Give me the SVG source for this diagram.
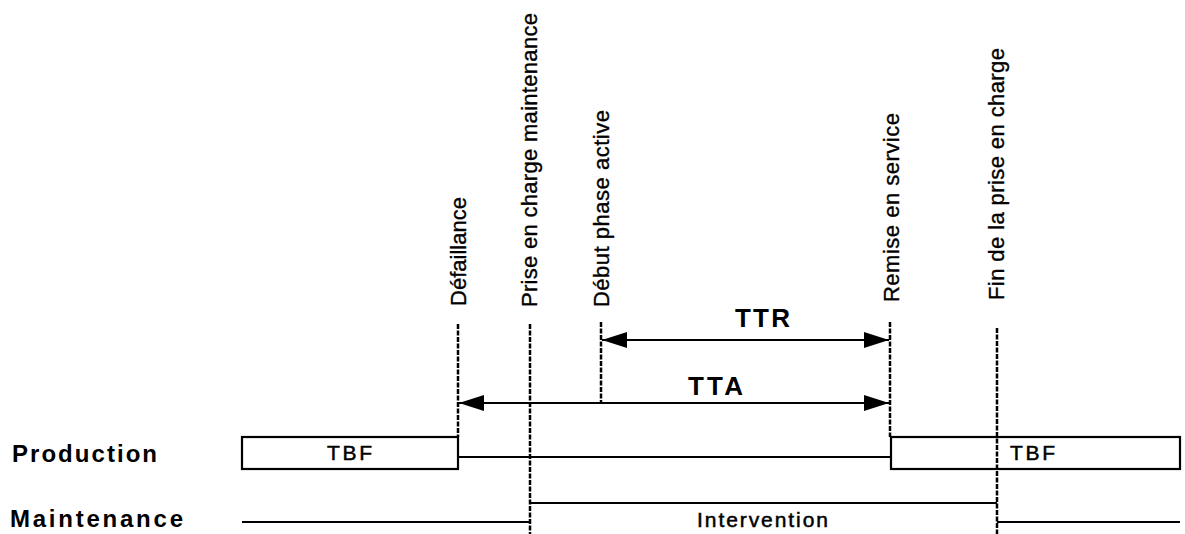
<svg xmlns="http://www.w3.org/2000/svg" width="1185" height="534" viewBox="0 0 1185 534">
<defs>
<style>
.lbl{font-family:"Liberation Sans",Arial,sans-serif;font-size:22px;fill:#000;stroke:#000;stroke-width:0.35}
.row{font-family:"Liberation Sans",Arial,sans-serif;font-size:24px;font-weight:bold;fill:#000}
.dur{font-family:"Liberation Sans",Arial,sans-serif;font-size:26px;font-weight:bold;fill:#000}
.box{font-family:"Liberation Sans",Arial,sans-serif;font-size:21px;fill:#000;stroke:#000;stroke-width:0.5}
.ev{stroke:#000;stroke-width:2.5;stroke-dasharray:5 1.5;fill:none}
.ln{stroke:#000;stroke-width:2.2;fill:none}
</style>
<marker id="ah" viewBox="0 0 25 16" refX="25" refY="8" markerWidth="25" markerHeight="16" markerUnits="userSpaceOnUse" orient="auto-start-reverse">
<path d="M0,0 L25,8 L0,16 Z" fill="#000"/>
</marker>
</defs>
<rect width="1185" height="534" fill="#fff"/>

<g id="row-production">
<text class="row" x="12" y="462" textLength="145" lengthAdjust="spacing">Production</text>
</g>
<g id="row-maintenance">
<text class="row" x="10" y="527" textLength="173" lengthAdjust="spacing">Maintenance</text>
</g>

<g id="tbf1">
<rect class="ln" x="242" y="437" width="216" height="32"/>
<text class="box" x="327" y="460" textLength="45" lengthAdjust="spacing">TBF</text>
</g>
<g id="tbf2">
<rect class="ln" x="891" y="437" width="289" height="32"/>
<text class="box" x="1010" y="460" textLength="45" lengthAdjust="spacing">TBF</text>
</g>
<g id="intervention">
<path class="ln" d="M530,503 H997"/>
<text class="box" x="697" y="527" textLength="131" lengthAdjust="spacing">Intervention</text>
</g>

<g id="ev-defaillance">
<path class="ev" d="M458,324 V437"/>
<text class="lbl" transform="translate(466,306) rotate(-90)" textLength="109" lengthAdjust="spacing">Défaillance</text>
</g>
<g id="ev-prise">
<path class="ev" d="M530,324 V534"/>
<text class="lbl" transform="translate(537,307) rotate(-90)" textLength="294" lengthAdjust="spacing">Prise en charge maintenance</text>
</g>
<g id="ev-debut">
<path class="ev" d="M601,322 V403"/>
<text class="lbl" transform="translate(609,307) rotate(-90)" textLength="197" lengthAdjust="spacing">Début phase active</text>
</g>
<g id="ev-remise">
<path class="ev" d="M890,322 V437"/>
<text class="lbl" transform="translate(899,302) rotate(-90)" textLength="189" lengthAdjust="spacing">Remise en service</text>
</g>
<g id="ev-fin">
<path class="ev" d="M997,328 V534"/>
<text class="lbl" transform="translate(1004,300) rotate(-90)" textLength="252" lengthAdjust="spacing">Fin de la prise en charge</text>
</g>

<g id="connectors">
<path class="ln" d="M458,457 H891"/>
<path class="ln" d="M242,522 H530"/>
<path class="ln" d="M997,522 H1180"/>
<path class="ln" d="M602,340 H889" marker-start="url(#ah)" marker-end="url(#ah)"/>
<path class="ln" d="M459,403 H889" marker-start="url(#ah)" marker-end="url(#ah)"/>
</g>

<g id="durations">
<text class="dur" x="735" y="327" textLength="55" lengthAdjust="spacing">TTR</text>
<text class="dur" x="688" y="395" textLength="55" lengthAdjust="spacing">TTA</text>
</g>
</svg>
